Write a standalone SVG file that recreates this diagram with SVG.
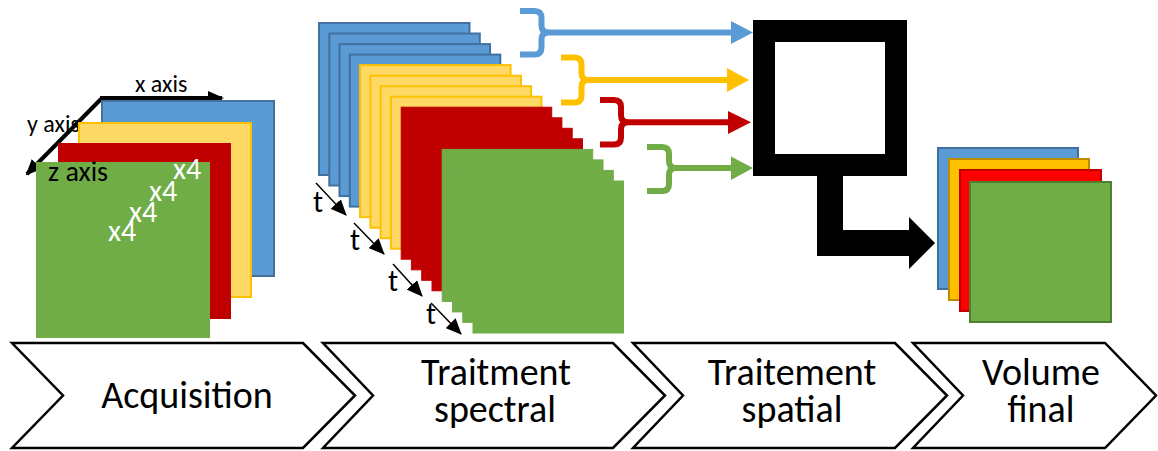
<svg xmlns="http://www.w3.org/2000/svg" width="1158" height="451" viewBox="0 0 1158 451">
<style>
  text { font-family: Carlito, Lato, "Liberation Sans", sans-serif; }
  .lbl { font-size: 38px; fill: #000; text-anchor: middle; }
  .ax { font-size: 24px; fill: #000; }
  .x4 { font-size: 30px; fill: #fff; }
  .t { font-size: 30px; fill: #000; }
  .blue { fill: #5B9BD5; stroke: #41719C; stroke-width: 2; }
  .yel { fill: #FFD966; stroke: #FFC000; stroke-width: 2; }
  .red { fill: #C00000; stroke: #C00000; stroke-width: 1; }
  .grn { fill: #70AD47; stroke: #70AD47; stroke-width: 1; }
  .chev { fill: #fff; stroke: #000; stroke-width: 2.5; stroke-linejoin: miter; }
  .brace { fill: none; stroke-width: 6; }
  .thin { stroke: #000; stroke-width: 1.5; fill: none; }
  .axis { stroke: #000; stroke-width: 4; fill: none; }
</style>
<defs>
  <marker id="tip" markerUnits="userSpaceOnUse" markerWidth="16" markerHeight="14" refX="15" refY="7" orient="auto">
    <path d="M0,0 L16,7 L0,14 Z" fill="#000"/>
  </marker>
  <marker id="axtip" markerUnits="userSpaceOnUse" markerWidth="16" markerHeight="14" refX="14" refY="7" orient="auto">
    <path d="M0,0 L16,7 L0,14 Z" fill="#000"/>
  </marker>
</defs>

<!-- Acquisition stack -->
<g id="acquisition-stack">
  <text class="ax" x="135" y="92">x axis</text>
  <text class="ax" x="27" y="132">y axis</text>
  <line class="axis" x1="100" y1="98" x2="222" y2="98" marker-end="url(#axtip)"/>
  <line class="axis" x1="101" y1="99" x2="27" y2="174" marker-end="url(#axtip)"/>
  <rect class="blue" x="102" y="101" width="172" height="175"/>
  <rect class="yel" x="79" y="123" width="172" height="174"/>
  <rect x="58" y="143" width="173" height="176" fill="#C00000"/>
  <rect x="36" y="162" width="174" height="176" fill="#70AD47"/>
  <text x="48" y="181" style="font-size:28px" fill="#000">z axis</text>
  <text class="x4" x="173" y="179">x4</text>
  <text class="x4" x="149" y="201">x4</text>
  <text class="x4" x="129" y="222">x4</text>
  <text class="x4" x="108" y="241">x4</text>
</g>

<!-- Spectral slices -->
<g id="spectral-stack">
  <rect class="blue" x="319.0" y="23.0" width="150.5" height="152"/>
  <rect class="blue" x="329.3" y="33.5" width="150.5" height="152"/>
  <rect class="blue" x="339.5" y="44.1" width="150.5" height="152"/>
  <rect class="blue" x="349.8" y="54.6" width="150.5" height="152"/>
  <rect class="yel" x="360.1" y="65.1" width="150.5" height="152"/>
  <rect class="yel" x="370.4" y="75.7" width="150.5" height="152"/>
  <rect class="yel" x="380.6" y="86.2" width="150.5" height="152"/>
  <rect class="yel" x="390.9" y="96.7" width="150.5" height="152"/>
  <rect class="red" x="401.2" y="107.2" width="150.5" height="152"/>
  <rect class="red" x="411.4" y="117.8" width="150.5" height="152"/>
  <rect class="red" x="421.7" y="128.3" width="150.5" height="152"/>
  <rect class="red" x="432.0" y="138.8" width="150.5" height="152"/>
  <rect class="grn" x="442.2" y="149.4" width="150.5" height="152"/>
  <rect class="grn" x="452.5" y="159.9" width="150.5" height="152"/>
  <rect class="grn" x="462.8" y="170.4" width="150.5" height="152"/>
  <rect class="grn" x="473.0" y="181.0" width="150.5" height="152"/>
  <text class="t" x="313" y="212">t</text>
  <text class="t" x="350" y="250">t</text>
  <text class="t" x="388" y="291">t</text>
  <text class="t" x="426" y="324">t</text>
</g>

<!-- Spatial processing frame -->
<g id="spatial-frame">
  <rect x="764" y="31" width="132" height="134" fill="#fff" stroke="#000" stroke-width="22"/>
</g>

<!-- Final volume -->
<g id="final-volume">
  <rect x="938" y="148" width="140" height="141" fill="#5B9BD5" stroke="#41719C" stroke-width="2"/>
  <rect x="949" y="159" width="140" height="141" fill="#FFC000" stroke="#BC8C00" stroke-width="2"/>
  <rect x="960" y="170" width="141" height="141" fill="#FF0000" stroke="#C00000" stroke-width="2"/>
  <rect x="970" y="182" width="141" height="140" fill="#70AD47" stroke="#507E32" stroke-width="2"/>
</g>

<!-- Chevrons -->
<g id="step-acquisition">
  <path class="chev" d="M12,343 H303 L355,395.5 L303,448 H12 L63,395.5 Z"/>
  <text class="lbl" x="187" y="408">Acquisition</text>
</g>
<g id="step-spectral">
  <path class="chev" d="M323,343 H613 L665,395.5 L613,448 H323 L373,395.5 Z"/>
  <text class="lbl" x="496" y="385">Traitment</text>
  <text class="lbl" x="495" y="422">spectral</text>
</g>
<g id="step-spatial">
  <path class="chev" d="M633,343 H895 L947,395.5 L895,448 H633 L683,395.5 Z"/>
  <text class="lbl" x="792" y="385">Traitement</text>
  <text class="lbl" x="792" y="422">spatial</text>
</g>
<g id="step-volume">
  <path class="chev" d="M913,343 H1105 L1156,395.5 L1105,448 H913 L963,395.5 Z"/>
  <text class="lbl" x="1041" y="385">Volume</text>
  <text class="lbl" x="1041" y="422">final</text>
</g>

<!-- Connectors -->
<g id="connectors">
  <line class="thin" x1="316" y1="183" x2="346" y2="215" marker-end="url(#tip)"/>
  <line class="thin" x1="354" y1="223" x2="384" y2="254" marker-end="url(#tip)"/>
  <line class="thin" x1="393" y1="264" x2="422" y2="296" marker-end="url(#tip)"/>
  <line class="thin" x1="431" y1="303" x2="461" y2="334" marker-end="url(#tip)"/>
  <path class="brace" stroke="#5B9BD5" d="M520,11 H534.5 Q541.5,11 541.5,18 V25.5 Q541.5,32.5 548.5,32.5 Q541.5,32.5 541.5,39.5 V47.5 Q541.5,54.5 534.5,54.5 H520"/>
  <line x1="548" y1="32.5" x2="732" y2="32.5" stroke="#5B9BD5" stroke-width="6"/>
  <polygon points="731,21 753,32.5 731,44" fill="#5B9BD5"/>
  <path class="brace" stroke="#FFC000" d="M561,57.5 H574.5 Q581.5,57.5 581.5,64.5 V73 Q581.5,80 588.5,80 Q581.5,80 581.5,87 V95.5 Q581.5,102.5 574.5,102.5 H561"/>
  <line x1="588" y1="80" x2="728" y2="80" stroke="#FFC000" stroke-width="6"/>
  <polygon points="727,68 749,80 727,92" fill="#FFC000"/>
  <path class="brace" stroke="#C00000" d="M600,100 H614 Q621,100 621,107 V115.3 Q621,122.3 628,122.3 Q621,122.3 621,129.3 V137.5 Q621,144.5 614,144.5 H600"/>
  <line x1="627" y1="122.3" x2="729" y2="122.3" stroke="#C00000" stroke-width="6"/>
  <polygon points="728,111 751,122.3 728,134" fill="#C00000"/>
  <path class="brace" stroke="#70AD47" d="M647,147 H662 Q669,147 669,154 V161 Q669,168 676,168 Q669,168 669,175 V184 Q669,191 662,191 H647"/>
  <line x1="675" y1="168" x2="732" y2="168" stroke="#70AD47" stroke-width="6"/>
  <polygon points="731,156.5 753,168 731,180" fill="#70AD47"/>
  <polygon points="817,176 843,176 843,230 909,230 909,217 935,243 909,269 909,256 817,256" fill="#000"/>
</g>
</svg>
